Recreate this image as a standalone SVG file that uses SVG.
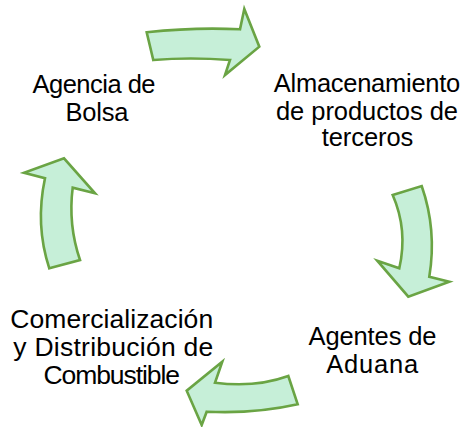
<svg xmlns="http://www.w3.org/2000/svg" width="472" height="427" viewBox="0 0 472 427">
<style>
.arr{fill:#c6efd8;stroke:#6aa444;stroke-width:2.6;stroke-linejoin:miter}
text{font-family:"Liberation Sans",Arial,sans-serif;font-size:25.5px;fill:#000;text-anchor:middle}
.big{font-size:26.5px}
</style>
<rect width="472" height="427" fill="#fff"/>
<g id="connectors">
<path class="arr" d="M146.7,32.3 Q195,27 240,29.3 L244.3,9 L259.3,46.7 L225,75 L230,60 Q190,57 153.3,60 Z"/>
<path class="arr" d="M392.7,195 L421.7,186 Q437,230 429.3,276.7 L449.3,281.7 L408.3,296.7 L377.3,260.7 L399.3,268.3 Q408,230 392.7,195 Z"/>
<path class="arr" d="M288.3,376 Q255,388 215,382.7 L222.3,361.7 L186.7,390.7 L201.7,425 L206.7,411.7 Q255,414 297.7,404.3 Z"/>
<path class="arr" d="M49.3,268.3 L80,260 Q68,225 72.7,187.7 L95,193.3 L64,158.3 L24,172.7 L45,178.3 Q35,225 49.3,268.3 Z"/>
</g>
<g id="agencia"><text x="94" y="93" textLength="123">Agencia de</text><text x="97" y="121" textLength="63">Bolsa</text></g>
<g id="almacenamiento"><text x="367" y="91.5" textLength="186.5">Almacenamiento</text><text x="367" y="119.5" textLength="182">de productos de</text><text x="367.5" y="146" textLength="91.5">terceros</text></g>
<g id="agentes"><text x="372.5" y="345" textLength="128">Agentes de</text><text x="372.2" y="372.5" textLength="92">Aduana</text></g>
<g id="comercializacion" class="big"><text class="big" x="111.7" y="328.3" textLength="203">Comercialización</text><text class="big" x="113.3" y="356" textLength="200">y Distribución de</text><text class="big" x="111.7" y="383.5" textLength="136.5">Combustible</text></g>
</svg>
